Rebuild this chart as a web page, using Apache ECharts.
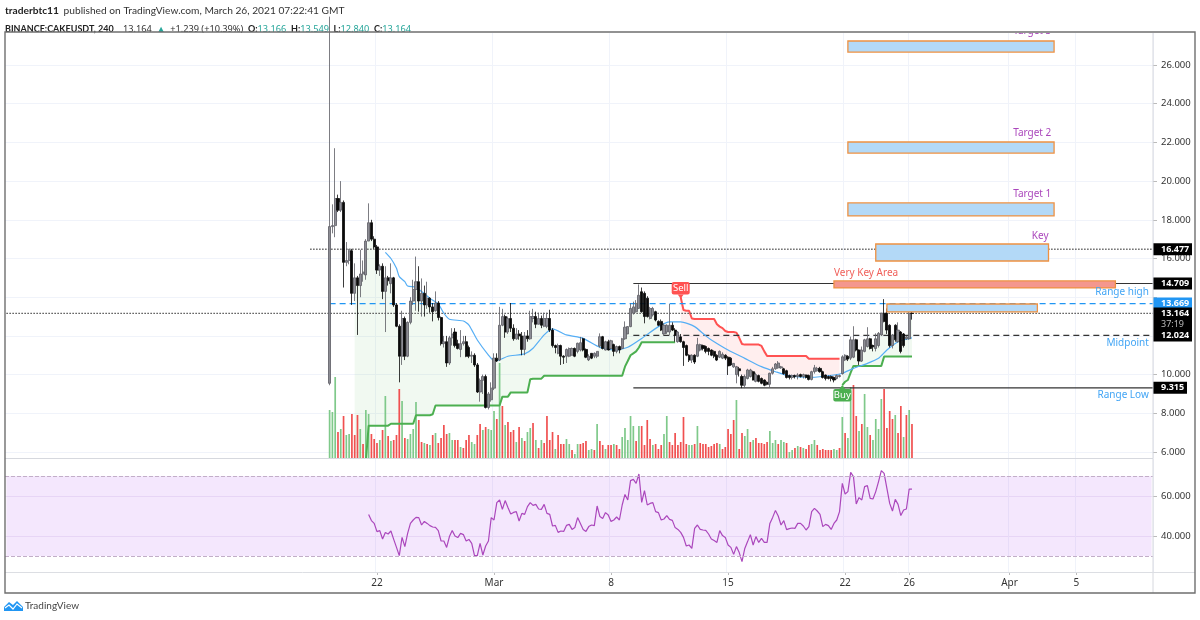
<!DOCTYPE html>
<html>
<head>
<meta charset="utf-8">
<title>CAKEUSDT</title>
<script src="https://cdn.jsdelivr.net/npm/echarts@6/dist/echarts.min.js"></script>
<style>
html, body { margin: 0; padding: 0; background: #fff; }
#chart { width: 1200px; height: 620px; }
</style>
</head>
<body>
<div id="chart"></div>
<script>
const slotCount = 412
const firstBar = 116 // slot of the first candle, the rest of the axis is empty space

const tickSlots = [133, 175, 217, 259, 301, 324, 360, 384]
const tickLabels = ['22', 'Mar', '8', '15', '22', '26', 'Apr', '5']
const priceTicks = [6, 8, 10, 12, 14, 16, 18, 20, 22, 24, 26]
const priceLabelTicks = [6, 8, 10, 16, 18, 20, 22, 24, 26]
const rsiTicks = [40, 60]

// open, close, low, high
const candles = [
  [9.55,17.65,9.45,28.5],[17.65,17.7,17.3,18.8],[17.7,19.1,17.1,21.7],[19.1,18.5,18.4,19.3],[18.5,18.9,18.4,20.0],
  [18.9,15.8,14.5,19.0],[15.8,15.9,15.6,16.85],[15.9,16.4,15.7,16.5],[16.4,14.2,13.6,16.5],[14.2,15.0,13.8,15.75],
  [15.0,14.6,12.05,15.1],[14.6,15.2,14.0,16.45],[15.2,15.3,14.8,15.9],[15.15,16.9,14.9,17.0],[16.9,17.85,16.9,18.85],
  [17.85,17.0,16.9,18.0],[17.0,16.6,16.5,17.15],[16.6,15.4,15.2,16.7],[15.4,15.6,15.1,15.7],[15.6,14.3,13.9,15.75],
  [14.3,15.0,12.2,15.6],[15.0,14.85,14.6,15.1],[14.7,15.0,14.2,15.75],[15.0,13.6,13.5,15.05],[13.6,12.5,12.45,13.7],
  [12.5,10.95,9.6,12.6],[10.95,12.9,10.5,13.3],[12.9,10.95,10.75,13.0],[10.95,12.7,10.9,12.75],[12.7,13.8,12.6,14.0],
  [13.8,14.4,13.6,14.9],[14.4,14.8,13.3,16.1],[14.8,13.8,13.25,15.6],[13.8,14.2,13.0,14.97],[14.2,13.6,13.0,14.6],
  [13.6,13.95,13.4,14.8],[13.95,13.5,13.2,14.0],[13.5,13.25,12.75,13.7],[13.3,13.7,13.25,14.3],[13.7,12.95,12.8,13.8],
  [12.95,11.6,11.5,13.0],[11.6,11.7,11.4,12.0],[11.7,10.6,10.4,12.0],[10.6,11.9,10.5,12.0],[11.9,12.1,11.5,12.4],
  [12.2,11.5,11.4,12.4],[11.6,11.35,11.3,11.8],[11.3,11.6,10.9,12.3],[11.6,11.7,11.5,12.0],[11.7,10.95,10.9,12.0],
  [11.4,10.95,10.85,11.5],[10.95,11.0,10.6,11.2],[11.0,10.5,10.4,11.1],[10.5,9.1,9.05,10.6],[9.1,9.7,8.6,9.8],
  [9.7,9.9,9.0,10.0],[9.9,8.3,8.25,10.0],[8.3,9.0,8.2,9.1],[8.7,9.3,8.6,9.6],[9.3,10.85,9.2,11.1],
  [10.85,10.7,10.65,11.1],[10.75,12.55,10.7,13.5],[12.55,13.0,12.5,13.4],[13.0,12.2,11.9,13.1],[12.2,12.9,12.1,13.0],
  [12.9,12.4,12.2,13.7],[12.4,11.85,11.75,12.6],[11.85,12.1,11.8,12.4],[12.1,12.0,11.8,12.3],[12.0,11.3,11.0,12.2],
  [11.3,12.0,11.0,12.2],[12.0,11.85,11.7,12.3],[11.85,13.0,11.8,13.3],[12.9,13.0,12.7,13.4],[13.0,12.6,12.4,13.25],
  [12.6,12.9,12.6,13.2],[12.9,12.55,12.4,13.05],[12.5,12.9,12.45,13.2],[12.5,12.9,12.4,13.2],[12.9,12.3,12.2,13.35],
  [12.3,11.5,11.4,12.4],[11.5,11.4,11.1,11.55],[11.1,11.5,11.05,11.6],[11.5,10.95,10.5,11.55],[10.95,10.9,10.55,11.0],
  [10.95,11.3,10.6,11.35],[10.95,11.35,10.9,11.4],[11.0,11.35,11.0,11.4],[11.35,10.95,10.9,11.4],[11.2,11.62,11.1,11.65],
  [11.27,11.65,11.2,11.95],[11.85,11.27,11.2,11.9],[11.3,10.9,10.85,11.35],[10.76,10.95,10.7,11.05],[11.1,10.85,10.8,11.1],
  [10.95,11.1,10.85,11.15],[10.95,11.2,10.85,11.2],[11.47,11.96,11.4,12.13],[11.96,11.35,11.3,12.0],[11.27,11.7,11.25,11.75],
  [11.7,11.27,11.25,11.8],[11.35,11.75,11.3,11.8],[11.55,11.2,10.95,11.6],[11.2,11.45,11.1,11.5],[11.45,11.27,11.1,11.5],
  [11.35,11.85,11.3,11.9],[11.85,12.45,11.8,12.75],[12.1,12.48,12.1,12.5],[12.48,13.42,12.45,13.68],[13.17,13.5,13.1,13.77],
  [13.25,13.68,13.2,13.85],[13.42,14.1,13.4,14.66],[14.28,13.25,13.2,14.5],[14.2,13.0,12.65,14.3],[13.95,13.0,12.95,14.05],
  [12.9,13.42,12.85,13.5],[13.08,13.42,13.0,13.5],[13.25,12.82,12.75,13.3],[12.75,12.55,12.5,12.8],[12.75,12.3,12.25,12.85],
  [12.1,12.55,12.05,12.65],[12.2,12.55,12.1,12.6],[12.2,12.55,12.05,13.65],[12.55,12.3,12.25,12.7],[12.3,12.05,11.7,12.4],
  [11.7,12.2,11.65,12.25],[11.95,11.7,11.65,12.1],[11.7,11.4,10.45,11.75],[11.5,11.0,10.95,11.55],[11.0,10.75,10.65,11.05],
  [10.75,11.0,10.6,11.05],[11.0,10.65,10.55,11.05],[10.95,11.55,10.9,11.9],[11.27,11.55,11.2,11.6],[11.5,11.35,11.25,11.55],
  [11.45,11.2,11.1,11.5],[11.35,11.2,11.0,11.4],[11.27,11.0,10.95,11.3],[11.2,10.95,10.85,11.25],[11.0,10.75,10.7,11.05],
  [10.9,11.2,10.85,11.25],[10.85,11.05,10.8,11.15],[11.0,10.85,10.75,11.05],[10.9,10.45,9.98,10.95],[10.85,10.5,10.45,10.9],
  [10.4,10.58,10.35,10.6],[10.0,10.41,9.55,10.45],[10.3,10.2,9.9,10.4],[9.9,9.45,9.3,10.0],[9.45,9.9,9.3,10.0],
  [9.8,10.24,9.75,10.3],[9.9,10.24,9.85,10.3],[10.15,9.72,9.7,10.2],[9.65,10.0,9.6,10.1],[9.95,9.65,9.6,10.0],
  [9.8,9.55,9.5,9.85],[9.72,9.45,9.4,9.75],[9.6,9.5,9.45,9.65],[9.5,10.07,9.35,10.1],[10.07,10.3,10.0,10.4],
  [10.3,10.55,10.25,10.6],[10.35,10.6,10.3,10.7],[10.35,10.4,10.3,10.45],[10.3,10.05,10.0,10.35],[10.2,9.85,9.8,10.25],
  [9.95,9.85,9.75,10.0],[9.85,9.95,9.75,10.0],[9.95,9.9,9.8,10.0],[9.9,9.98,9.75,10.07],[10.0,9.9,9.85,10.05],
  [9.9,10.0,9.8,10.05],[9.98,9.85,9.8,10.0],[9.95,9.75,9.7,10.0],[9.75,10.15,9.7,10.2],[10.15,10.35,10.05,10.5],
  [10.2,10.32,10.15,10.4],[10.32,10.15,10.1,10.4],[10.15,9.85,9.8,10.2],[9.98,9.8,9.7,10.0],[9.9,9.8,9.75,9.95],
  [9.9,9.8,9.65,9.95],[9.85,9.72,9.6,9.9],[9.8,9.95,9.75,10.0],[9.9,9.95,9.85,10.0],[10.05,10.92,10.0,11.0],
  [10.76,11.0,10.7,11.05],[10.95,10.8,10.7,11.0],[10.85,11.8,10.75,11.96],[10.9,11.8,10.85,12.5],[11.8,11.27,11.2,11.85],
  [11.27,10.7,10.5,11.3],[10.7,11.27,10.65,11.45],[11.2,11.8,11.15,11.85],[11.45,11.85,11.4,12.45],[11.85,11.35,11.3,11.9],
  [11.5,11.44,11.2,11.55],[11.35,11.85,11.2,12.13],[11.5,12.13,11.4,12.2],[12.05,13.17,12.0,13.2],[13.17,12.75,12.7,13.9],
  [13.17,12.3,12.1,13.42],[12.55,11.5,11.4,12.6],[11.5,12.05,11.35,12.1],[12.55,11.8,11.7,12.6],[11.7,12.3,11.65,12.7],
  [12.2,11.2,11.1,12.25],[12.1,11.5,11.4,12.15],[11.85,11.95,11.8,12.0],[11.85,13.17,11.8,13.25],[13.166,13.164,12.84,13.549]
]

const volumes = [
  48,46,81,26,29,42,23,24,44,23,
  43,29,14,48,44,24,19,15,18,28,
  62,22,17,18,23,69,57,20,19,24,
  29,56,38,16,15,14,13,23,25,15,
  20,33,24,25,18,18,18,11,10,18,
  23,16,14,23,34,28,31,29,28,47,
  39,95,52,33,36,26,28,16,31,20,
  17,26,30,35,18,10,18,15,42,18,
  26,9,23,14,14,19,14,8,4,14,
  14,15,17,8,9,8,34,17,13,9,
  13,13,14,13,9,21,30,18,42,32,
  17,32,32,13,38,19,13,14,9,13,
  24,42,16,13,25,13,16,41,14,13,
  13,14,32,15,14,14,11,12,14,15,
  14,9,11,29,24,38,58,9,25,22,
  29,16,18,20,15,15,14,16,27,15,
  18,14,18,16,15,6,8,10,12,11,
  10,9,13,14,18,13,8,9,8,8,
  8,9,8,10,41,25,20,71,73,42,
  27,34,64,31,23,18,39,29,59,69,
  30,47,39,43,25,52,21,43,48,34
]
const volumeSides = ('gggrgrggrr' + 'rgrggrrrgr' + 'grgrrrgrgg' + 'ggrrgrgrgr' + 'rrrggrrgrr' + 'rggrrgrggg' +
  'rgrgrrrgrg' + 'rggrgrgrrr' + 'rgrrrggrgg' + 'rrrggrgrrg' + 'rrgrrggggg' + 'rgrrrrgrrr' + 'ggrrrrrrrg' +
  'grgrrrrrrr' + 'grrrrrgrrg' + 'grgrrrrrgg' + 'grggrggrgr' + 'grrggrrrrr' + 'rggrgrggrr' + 'grggrggggr' +
  'rrrgrrgrgr')

// bar number, price
const maPoints = [
  [20,16.32],[22,16.0],[24,15.49],[25,15.06],[27,14.8],[28,14.58],[31,14.51],[33,14.29],[36,13.94],[39,13.65],
  [41,13.17],[43,12.86],[48,12.77],[50,12.56],[53,11.79],[57,11.01],[59,10.72],[61,10.76],[64,10.95],[70,11.07],
  [73,11.36],[77,12.05],[80,12.36],[85,12.05],[91,11.87],[97,11.41],[103,11.27],[107,11.41],[112,11.87],[118,12.48],
  [122,12.73],[126,12.73],[131,12.48],[135,12.0],[137,11.79],[143,11.27],[149,10.84],[155,10.41],[160,10.15],[165,9.93],
  [173,9.86],[181,9.98],[184,10.07],[188,10.32],[193,10.58],[197,10.84],[200,11.27],[204,11.7],[208,11.87],[209,11.9]
]

// first bar, last bar, stop price
const greenStopRuns = [
  [9,13,5.5],[14,21,7.36],[22,30,7.46],[31,36,7.9],[37,37,7.95],[38,61,8.4],[62,64,8.86],[65,71,9.08],[72,72,9.76],
  [73,76,9.79],[77,105,9.94],[106,106,10.41],[107,107,10.7],[108,108,11.0],[109,109,11.1],[110,110,11.2],[111,111,11.4],
  [112,124,11.67],[184,184,9.46],[185,185,9.63],[186,186,9.72],[187,187,10.1],[188,198,10.45],[199,209,10.93]
]
const redStopRuns = [
  [126,126,14.0],[127,127,13.34],[128,129,13.3],[130,130,12.9],[131,138,12.87],[139,139,12.6],[140,140,12.48],
  [141,141,12.4],[142,142,12.25],[143,145,12.2],[146,146,12.17],[147,147,11.9],[148,148,11.58],[149,154,11.55],
  [155,155,11.48],[156,156,11.2],[157,171,10.96],[172,183,10.82]
]

const rsiStartBar = 14
const rsiValues = [
  50.8,47.7,46.3,42.2,42.7,38.5,41.8,41.0,42.5,38.3,34.3,30.2,39.3,34.7,41.3,46.3,48,49.3,49.2,45.5,
  47.3,46.3,45.2,44.5,44.3,42.7,37.5,37.5,34.3,39.7,42.7,40,39.2,41.3,40.7,37.5,38.3,36.3,30.2,30.2,
  36.3,30.5,35,37.5,49.2,48,56.7,58,53.3,57.7,54.3,51,51.8,52.2,47.5,51.3,50.8,54.7,56.7,55.3,
  55.8,53.5,53.3,55.8,51.3,50.8,45,45.3,41.8,42.5,42.3,45.3,45.8,43.3,44.2,49.2,46.3,43.3,42.3,44.7,
  45.5,45.2,55,49.7,48.8,51.7,50.5,47.3,48,49.5,48,55.5,60.8,58,67.7,68.3,66.3,71,
  56.8,62.7,55.5,56.3,56.7,52.2,51.7,48,48.5,50.2,48.3,47.8,44.2,43.3,41.8,39.3,35,35.5,33.8,43.8,
  45.5,43.3,43,42.8,41,38.5,37.7,36.8,42.7,40.2,39.3,35.5,34.3,30.8,34.7,31.7,27.2,33.8,37.2,40.7,
  35.5,39.7,36.8,38.8,36.8,36.8,46.3,49.3,52.8,50,45.5,47.7,43.2,43.7,44,43.8,46.3,46.3,45,43,
  44.7,52.2,53.8,52.5,50.8,44.7,45.8,45.2,43.3,46.3,48,52.2,66.3,61,62.2,71.8,69.7,56,59.2,58,
  64.7,65.2,58.8,58.5,62.2,67.2,72.7,71.3,63.8,56.3,52.5,58.3,55.8,50.2,53,53.5,63.5,63.4
]

// slot from, slot to, price top, price bottom, fill
const zones = [
  [302,376,27.24,26.67,'#b3d9f7'],
  [302,376,22.02,21.45,'#b3d9f7'],
  [302,376,18.87,18.2,'#b3d9f7'],
  [312,374,16.75,15.87,'#b3d9f7'],
  [297,398,14.84,14.48,'#f4978e'],
  [316,370,13.65,13.24,'#b3d9f7']
]

// text, slot, price, colour, anchor
const notes = [
  ['Target 3',375,27.76,'#ab47bc','right'],
  ['Target 2',375,22.5,'#ab47bc','right'],
  ['Target 1',375,19.3,'#ab47bc','right'],
  ['Key',374,17.18,'#ab47bc','right'],
  ['Very Key Area',297,15.25,'#f0605a','left'],
  ['Range high',410,14.28,'#42a5f5','right'],
  ['Midpoint',410,11.63,'#42a5f5','right'],
  ['Range Low',410,8.92,'#42a5f5','right']
]

// price, start slot, dash, colour, width
const levels = [
  [16.477,109,[1.5,1.5],'#666',1.4],
  [14.709,225,null,'#333',1.2],
  [13.669,116,[6,4],'#2196f3',1.2],
  [13.164,0,[1.5,1.5],'#555',1.4],
  [12.024,225,[6,4],'#333',1.2],
  [9.315,225,null,'#333',1.2]
]

const tagPrices = [16.477, 14.709, 13.669, 13.164, 12.024, 9.315]
const tagTexts = ['16.477', '14.709', '13.669', '13.164', '12.024', '9.315']
const tagFills = ['#000', '#000', '#2196f3', '#000', '#000', '#000']
const countdown = '37:19'

const signalSlots = [242, 300]
const signalPrices = [13.96, 9.46]
const signalTexts = ['Sell', 'Buy']
const signalFills = ['#ff5252', '#4caf50']

const FONT = '"Noto Sans", sans-serif'
const HEADER_FONT = 'Lato, sans-serif'

function expandRuns(runs) {
  let out = new Array(slotCount).fill(null)
  runs.forEach(r => {
    for (let n = r[0]; n <= r[1]; n++) out[firstBar + n] = r[2]
  })
  return out
}
const mids = new Array(slotCount).fill(null)
candles.forEach((c, n) => { mids[firstBar + n] = (c[0] + c[1]) / 2 })
const greenStop = expandRuns(greenStopRuns)
const redStop = expandRuns(redStopRuns)
const greenFill = greenStop.map((v, i) => (v === null ? null : mids[i] - v))
const redBase = redStop.map((v, i) => (v === null ? null : mids[i]))
const redFill = redStop.map((v, i) => (v === null ? null : v - mids[i]))
const rsiSeries = new Array(slotCount).fill(null)
rsiValues.forEach((v, i) => { rsiSeries[firstBar + rsiStartBar + i] = v })

const categories = []
for (let i = 0; i < slotCount; i++) categories.push(String(i))
const isTick = i => tickSlots.indexOf(i) >= 0

let myChart = echarts.init(document.getElementById('chart'), null, { renderer: 'canvas' })
let option = {
  animation: false,
  backgroundColor: '#ffffff',
  textStyle: { fontFamily: FONT },
  title: {
    left: 5,
    top: 2,
    padding: 0,
    text: '{b|traderbtc11} {n|published on TradingView.com, March 26, 2021 07:22:41 GMT}\n' +
      '{c|BINANCE:CAKEUSDT, 240}  {d|13.164} {t|▲} {d|+1.239 (+10.39%)} {c|O:}{t|13.166} {c|H:}{t|13.549} {c|L:}{t|12.840} {c|C:}{t|13.164}',
    textStyle: {
      fontWeight: 'normal',
      rich: {
        b: { fontFamily: HEADER_FONT, fontSize: 10.2, fontWeight: 'bold', color: '#222', lineHeight: 13 },
        n: { fontFamily: HEADER_FONT, fontSize: 10.2, fontWeight: 'normal', color: '#333', lineHeight: 13 },
        c: { fontFamily: HEADER_FONT, fontSize: 9, fontWeight: 'bold', color: '#222', lineHeight: 13 },
        d: { fontFamily: FONT, fontSize: 9.2, fontWeight: 'normal', color: '#333', lineHeight: 13 },
        t: { fontFamily: FONT, fontSize: 9.2, fontWeight: 'normal', color: '#26a69a', lineHeight: 13 }
      }
    }
  },
  grid: [
    { left: 5, top: 33, width: 1148, height: 425 },
    { left: 5, top: 459, width: 1148, height: 113 }
  ],
  xAxis: [
    {
      type: 'category', gridIndex: 0, data: categories, boundaryGap: true,
      axisLine: { show: false }, axisTick: { show: false }, axisLabel: { show: false },
      splitLine: { show: true, interval: i => isTick(i), lineStyle: { color: '#f0f3fa', width: 1 } }
    },
    {
      type: 'category', gridIndex: 1, data: categories, boundaryGap: true,
      axisLine: { show: false },
      axisTick: { show: true, length: 3, alignWithLabel: true, interval: i => isTick(i), lineStyle: { color: '#bbb' } },
      axisLabel: {
        show: true, interval: i => isTick(i), margin: 6, fontSize: 10, fontFamily: FONT, color: '#333',
        formatter: (v, i) => tickLabels[tickSlots.indexOf(i)] || ''
      },
      splitLine: { show: true, interval: i => isTick(i), lineStyle: { color: '#f0f3fa', width: 1 } }
    }
  ],
  yAxis: [
    {
      type: 'value', gridIndex: 0, position: 'right', min: 5.69, max: 27.654,
      axisLine: { show: false },
      axisTick: { show: true, length: 4, customValues: priceTicks, lineStyle: { color: '#bbb' } },
      axisLabel: { show: true, margin: 8, fontSize: 9.5, fontFamily: FONT, color: '#333', customValues: priceLabelTicks, formatter: v => v.toFixed(3) },
      splitLine: { show: true, lineStyle: { color: '#f0f3fa', width: 1 } }
    },
    { type: 'value', gridIndex: 0, min: 0, max: 425, show: false, splitLine: { show: false } },
    {
      type: 'value', gridIndex: 1, position: 'right', min: 22, max: 78.5,
      axisLine: { show: false },
      axisTick: { show: true, length: 4, customValues: rsiTicks, lineStyle: { color: '#bbb' } },
      axisLabel: { show: true, margin: 8, fontSize: 9.5, fontFamily: FONT, color: '#333', customValues: rsiTicks, formatter: v => v.toFixed(3) },
      splitLine: { show: true, lineStyle: { color: 'rgba(150,100,190,0.13)', width: 1 } }
    }
  ],
  series: [
    {
      name: 'greenStop', type: 'line', xAxisIndex: 0, yAxisIndex: 0, stack: 'g', data: greenStop, z: 3,
      showSymbol: false, symbol: 'none', lineStyle: { color: '#4caf50', width: 2 }
    },
    {
      name: 'greenFill', type: 'line', xAxisIndex: 0, yAxisIndex: 0, stack: 'g', data: greenFill, z: 1,
      showSymbol: false, symbol: 'none', lineStyle: { opacity: 0 }, areaStyle: { color: 'rgba(76,175,80,0.11)' }
    },
    {
      name: 'redBase', type: 'line', xAxisIndex: 0, yAxisIndex: 0, stack: 'r', data: redBase, z: 1,
      showSymbol: false, symbol: 'none', lineStyle: { opacity: 0 }
    },
    {
      name: 'redFill', type: 'line', xAxisIndex: 0, yAxisIndex: 0, stack: 'r', data: redFill, z: 3,
      showSymbol: false, symbol: 'none', lineStyle: { color: '#ff5252', width: 2 }, areaStyle: { color: 'rgba(255,82,82,0.14)' }
    },
    {
      name: 'volume', type: 'bar', xAxisIndex: 0, yAxisIndex: 1, barWidth: 1.7, z: 2,
      data: volumes.map((v, n) => [firstBar + n, v]),
      itemStyle: { color: p => (volumeSides[p.dataIndex] === 'g' ? '#7fc98a' : '#f05050') }
    },
    {
      name: 'ma', type: 'line', xAxisIndex: 0, yAxisIndex: 0, z: 4, smooth: 0.2,
      data: maPoints.map(p => [firstBar + p[0], p[1]]),
      showSymbol: false, symbol: 'none', lineStyle: { color: '#55aef5', width: 1.2 }
    },
    {
      name: 'levels', type: 'custom', xAxisIndex: 0, yAxisIndex: 0, z: 4,
      data: levels.map(l => [l[1], l[0]]),
      renderItem: (params, api) => {
        const p = api.coord([api.value(0), api.value(1)])
        const cs = params.coordSys
        const l = levels[params.dataIndex]
        return {
          type: 'line',
          shape: { x1: p[0], y1: p[1], x2: cs.x + cs.width, y2: p[1] },
          style: { stroke: l[3], lineWidth: l[4], lineDash: l[2] || 'solid', fill: null }
        }
      }
    },
    {
      name: 'price', type: 'candlestick', xAxisIndex: 0, yAxisIndex: 0, z: 5, barWidth: 2.6,
      data: candles.map((c, n) => [firstBar + n, c[0], c[1], c[2], c[3]]),
      encode: { x: 0, y: [1, 2, 3, 4] },
      itemStyle: { color: '#8d8d94', color0: '#0a0a0a', borderColor: '#5c5c63', borderColor0: '#0a0a0a', borderWidth: 0.8 }
    },
    {
      name: 'zones', type: 'custom', xAxisIndex: 0, yAxisIndex: 0, clip: true, z: 6,
      data: zones.map(z => [z[0], z[2], z[1], z[3]]),
      renderItem: (params, api) => {
        const a = api.coord([api.value(0), api.value(1)])
        const b = api.coord([api.value(2), api.value(3)])
        return {
          type: 'rect',
          shape: { x: a[0], y: a[1], width: b[0] - a[0], height: b[1] - a[1] },
          style: { fill: zones[params.dataIndex][4], stroke: '#ee9142', lineWidth: 1.3 }
        }
      }
    },
    {
      name: 'notes', type: 'custom', xAxisIndex: 0, yAxisIndex: 0, clip: true, z: 7,
      data: notes.map(n => [n[1], n[2]]),
      renderItem: (params, api) => {
        const p = api.coord([api.value(0), api.value(1)])
        const n = notes[params.dataIndex]
        return {
          type: 'text',
          style: { text: n[0], x: p[0], y: p[1], fill: n[3], font: '10px ' + FONT, textAlign: n[4], textVerticalAlign: 'middle' }
        }
      }
    },
    {
      name: 'signals', type: 'custom', xAxisIndex: 0, yAxisIndex: 0, z: 8,
      data: signalSlots.map((s, i) => [s, signalPrices[i]]),
      renderItem: (params, api) => {
        const p = api.coord([api.value(0), api.value(1)])
        const i = params.dataIndex
        const up = signalTexts[i] === 'Buy'
        const top = up ? p[1] + 4 : p[1] - 16
        const tipY = up ? top : top + 12.5
        const tipEnd = up ? top - 4 : top + 16.5
        return {
          type: 'group',
          children: [
            { type: 'rect', shape: { x: p[0] - 9, y: top, width: 18, height: 12.5, r: 2 }, style: { fill: signalFills[i] } },
            { type: 'polygon', shape: { points: [[p[0] - 3, tipY], [p[0] + 3, tipY], [p[0], tipEnd]] }, style: { fill: signalFills[i] } },
            { type: 'text', style: { text: signalTexts[i], x: p[0], y: top + 6.5, fill: '#fff', font: '9.5px ' + FONT, textAlign: 'center', textVerticalAlign: 'middle' } }
          ]
        }
      }
    },
    {
      name: 'priceTags', type: 'custom', xAxisIndex: 0, yAxisIndex: 0, z: 9,
      data: tagPrices.map(p => [0, p]),
      renderItem: (params, api) => {
        const y = api.coord([0, api.value(1)])[1]
        const cs = params.coordSys
        const x = cs.x + cs.width
        const i = params.dataIndex
        const isLast = tagTexts[i] === '13.164'
        const w = tagTexts[i].length < 6 ? 34 : 39
        const kids = [
          { type: 'rect', shape: { x: x, y: y - 6, width: w, height: isLast ? 23 : 12 }, style: { fill: tagFills[i] } },
          { type: 'text', style: { text: tagTexts[i], x: x + 8, y: y, fill: '#fff', font: 'bold 9px ' + FONT, textVerticalAlign: 'middle' } }
        ]
        if (isLast) {
          kids.push({ type: 'text', style: { text: countdown, x: x + 8, y: y + 11, fill: '#bbb', font: '9px ' + FONT, textVerticalAlign: 'middle' } })
        }
        return { type: 'group', children: kids }
      }
    },
    {
      name: 'rsi', type: 'line', xAxisIndex: 1, yAxisIndex: 2, data: rsiSeries, z: 4,
      showSymbol: false, symbol: 'none', lineStyle: { color: '#ab47bc', width: 1.2 },
      markArea: {
        silent: true, animation: false,
        itemStyle: { color: 'rgba(171,71,240,0.13)' },
        data: [[{ coord: [0, 70] }, { coord: [411, 30] }]]
      },
      markLine: {
        silent: true, symbol: 'none', animation: false, label: { show: false },
        lineStyle: { type: 'dashed', color: '#c2aec8', width: 1 },
        data: [{ yAxis: 70 }, { yAxis: 30 }]
      }
    }
  ],
  graphic: [
    { type: 'rect', silent: true, z: 100, shape: { x: 5, y: 32, width: 1190, height: 561 }, style: { fill: 'none', stroke: '#6f6f6f', lineWidth: 1.4 } },
    { type: 'line', silent: true, z: 90, shape: { x1: 1153, y1: 33, x2: 1153, y2: 593 }, style: { stroke: '#d6d8de', lineWidth: 1 } },
    { type: 'line', silent: true, z: 90, shape: { x1: 5, y1: 458.5, x2: 1153, y2: 458.5 }, style: { stroke: '#d6d8de', lineWidth: 1 } },
    { type: 'line', silent: true, z: 90, shape: { x1: 5, y1: 572.5, x2: 1195, y2: 572.5 }, style: { stroke: '#dcdee3', lineWidth: 1 } },
    {
      type: 'polygon', silent: true, z: 100,
      shape: { points: [[4, 611], [4, 607], [9, 602], [13, 605], [17, 601], [23, 607], [23, 611]] },
      style: { fill: '#2196f3' }
    },
    {
      type: 'polyline', silent: true, z: 101,
      shape: { points: [[5, 608], [9, 605], [13, 609], [17, 604], [22, 608]] },
      style: { stroke: '#fff', lineWidth: 1.2, fill: 'none' }
    },
    { type: 'text', silent: true, z: 100, style: { text: 'TradingView', x: 25, y: 606, fill: '#444', font: '10px ' + HEADER_FONT, textVerticalAlign: 'middle' } }
  ]
}
myChart.setOption(option)
</script>
</body>
</html>
